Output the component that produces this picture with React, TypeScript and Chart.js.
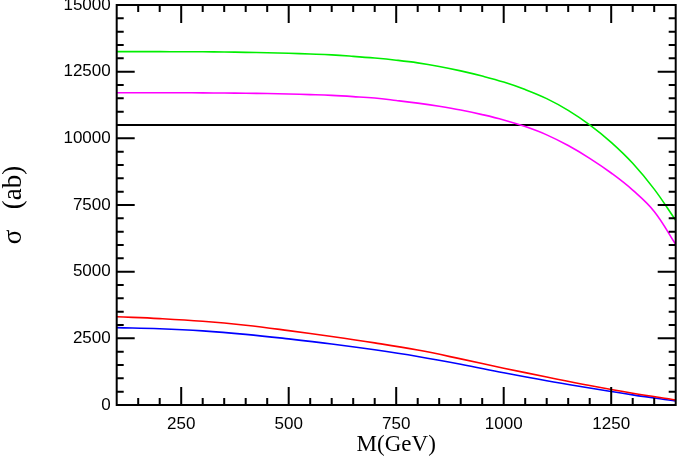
import React, { useEffect, useRef } from "react";
import { Chart, registerables } from "chart.js";

Chart.register(...registerables);

// ---- data ----
const massLow = [100, 200, 300, 400, 500, 600, 700, 800, 900, 1000, 1100, 1200, 1300, 1400];
const redSigma = [3310, 3240, 3140, 2990, 2790, 2570, 2330, 2060, 1730, 1380, 1050, 730, 440, 190];
const blueSigma = [2900, 2860, 2780, 2650, 2480, 2290, 2070, 1820, 1530, 1210, 910, 640, 380, 150];
const massHigh = [100, 150, 200, 250, 300, 350, 400, 450, 500, 550, 600, 650, 700, 750, 800, 850, 900, 950, 1000, 1050, 1100, 1150, 1200, 1250, 1300, 1350, 1400];
const greenSigma = [13250, 13250, 13250, 13248, 13245, 13238, 13225, 13210, 13190, 13163, 13130, 13075, 13010, 12930, 12830, 12695, 12530, 12335, 12110, 11830, 11490, 11050, 10505, 9850, 9065, 8095, 6925];
const magentaSigma = [11710, 11710, 11710, 11708, 11705, 11699, 11690, 11680, 11665, 11640, 11610, 11565, 11510, 11420, 11320, 11200, 11060, 10890, 10690, 10440, 10130, 9730, 9250, 8700, 8060, 7260, 6020];
const referenceLineX = [100, 1400];
const referenceLineY = [10500, 10500];
const xTickLabels = [250, 500, 750, 1000, 1250];
const xRange = [100, 1400];
const yRange = [0, 15000];

const toPoints = (xs: number[], ys: number[]) => xs.map((x, i) => ({ x, y: ys[i] }));

const framePlugin = {
  id: "frameTicks",
  afterDatasetsDraw(chart: any) {
    const { ctx, chartArea } = chart;
    const { left, right, top, bottom } = chartArea;
    const xs = chart.scales.x;
    const ys = chart.scales.y;
    ctx.save();
    ctx.strokeStyle = "#000";
    ctx.lineWidth = 2;
    ctx.beginPath();
    for (let v = xRange[0] + 50; v < xRange[1]; v += 50) {
      const p = xs.getPixelForValue(v);
      const len = v % 250 === 0 ? 18 : 7;
      ctx.moveTo(p, bottom);
      ctx.lineTo(p, bottom - len);
      ctx.moveTo(p, top);
      ctx.lineTo(p, top + len);
    }
    for (let v = yRange[0] + 500; v < yRange[1]; v += 500) {
      const p = ys.getPixelForValue(v);
      const len = v % 2500 === 0 ? 18 : 7;
      ctx.moveTo(left, p);
      ctx.lineTo(left + len, p);
      ctx.moveTo(right, p);
      ctx.lineTo(right - len, p);
    }
    ctx.stroke();
    ctx.strokeRect(left, top, right - left, bottom - top);
    ctx.restore();
  },
};

export default function App() {
  const ref = useRef<HTMLCanvasElement | null>(null);
  useEffect(() => {
    if (!ref.current) return;
    const lineDs = (label: string, xs: number[], ys: number[], color: string) => ({
      label,
      data: toPoints(xs, ys),
      borderColor: color,
      backgroundColor: color,
      borderWidth: 1.6,
      pointRadius: 0,
      tension: 0.4,
      fill: false,
    });
    const chart = new Chart(ref.current, {
      type: "line",
      data: {
        datasets: [
          lineDs("green", massHigh, greenSigma, "#00ee00"),
          lineDs("magenta", massHigh, magentaSigma, "#ff00ff"),
          lineDs("red", massLow, redSigma, "#ff0000"),
          lineDs("blue", massLow, blueSigma, "#0000ff"),
          {
            label: "limit",
            data: toPoints(referenceLineX, referenceLineY),
            borderColor: "#000",
            borderWidth: 2,
            pointRadius: 0,
            fill: false,
          },
        ],
      },
      options: {
        animation: false,
        responsive: true,
        maintainAspectRatio: false,
        layout: { padding: { top: 5, right: 1.3, left: 0, bottom: 0 } },
        plugins: { legend: { display: false }, tooltip: { enabled: false } },
        scales: {
          x: {
            type: "linear",
            min: xRange[0],
            max: xRange[1],
            grid: { display: false, drawTicks: false },
            border: { display: false },
            afterBuildTicks: (scale: any) => {
              scale.ticks = xTickLabels.map((v) => ({ value: v }));
            },
            afterFit: (scale: any) => {
              scale.height = 58;
              scale.paddingLeft = 0;
              scale.paddingRight = 0;
            },
            ticks: {
              padding: 9,
              maxRotation: 0,
              autoSkip: false,
              color: "#000",
              font: { family: "Liberation Sans", size: 17 },
              callback: (v: any) => String(v),
            },
            title: {
              display: true,
              text: "M(GeV)",
              color: "#000",
              font: { family: "Liberation Serif", size: 23, lineHeight: 1 },
              padding: { top: 0, bottom: 7 },
            },
          },
          y: {
            type: "linear",
            min: yRange[0],
            max: yRange[1],
            grid: { display: false, drawTicks: false },
            border: { display: false },
            afterFit: (scale: any) => {
              scale.width = 116.7;
              scale.paddingTop = 0;
              scale.paddingBottom = 0;
            },
            ticks: {
              stepSize: 2500,
              padding: 6,
              color: "#000",
              font: { family: "Liberation Sans", size: 17 },
              callback: (v: any) => String(v),
            },
            title: {
              display: true,
              text: "σ   (ab)",
              color: "#000",
              font: { family: "Liberation Serif", size: 27, lineHeight: 1 },
              padding: { top: 0, bottom: 0 },
            },
          },
        },
      },
      plugins: [framePlugin],
    });
    return () => chart.destroy();
  }, []);
  return (
    <div style={{ position: "fixed", left: 0, top: 0, width: 677, height: 463, background: "#fff" }}>
      <canvas ref={ref} />
    </div>
  );
}
